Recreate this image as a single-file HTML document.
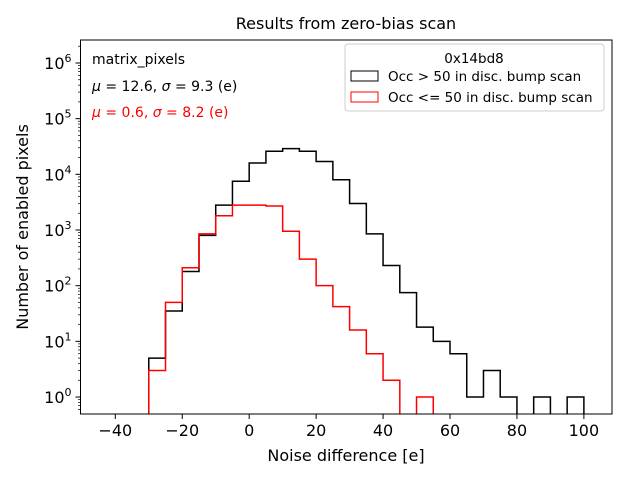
<!DOCTYPE html>
<html><head><meta charset="utf-8"><style>
body{margin:0;background:#fff}
svg{font-family:"DejaVu Sans","Liberation Sans",sans-serif}
</style></head><body>
<svg id="chart" width="640" height="480">
<defs><clipPath id="clip"><rect x="80.5" y="40" width="531.5" height="374"/></clipPath></defs>
<rect x="0" y="0" width="640" height="480" fill="#fff"/>
<text x="346" y="29" font-size="16" text-anchor="middle">Results from zero-bias scan</text>
<g id="plot" clip-path="url(#clip)"></g>
<rect x="80.5" y="40" width="531.5" height="374" fill="none" stroke="#000" stroke-width="1"/>
<g id="axes"></g>
<text x="346" y="461" font-size="16" text-anchor="middle">Noise difference [e]</text>
<text transform="translate(28,227) rotate(-90)" font-size="16" text-anchor="middle">Number of enabled pixels</text>
<text x="92" y="64" font-size="14">matrix_pixels</text>
<text x="92" y="91" font-size="14"><tspan font-style="italic">μ</tspan> = 12.6, <tspan font-style="italic">σ</tspan> = 9.3 (e)</text>
<text x="92" y="117" font-size="14" fill="#ff0000"><tspan font-style="italic">μ</tspan> = 0.6, <tspan font-style="italic">σ</tspan> = 8.2 (e)</text>
<g>
<rect x="345" y="44" width="259" height="67" rx="3" fill="#fff" stroke="#ccc"/>
<text x="474" y="63" font-size="13.5" text-anchor="middle">0x14bd8</text>
<rect x="351" y="71" width="27" height="10" fill="none" stroke="#000"/>
<text x="388" y="81" font-size="13.5">Occ &gt; 50 in disc. bump scan</text>
<rect x="351" y="92" width="27" height="10" fill="none" stroke="#ff0000"/>
<text x="388" y="102" font-size="13.5">Occ &lt;= 50 in disc. bump scan</text>
</g>
</svg>
<script>
const binEdgesStart = -30;
const binWidth = 5;
const blackCounts = [5,35,180,800,2800,7500,16000,26000,29000,26000,17000,8000,3000,850,230,75,18,10,6,1,3,1,0,1,0,1];
const redCounts = [3,50,210,850,1800,2800,2800,2700,950,300,100,42,16,6,2,0,1];
const xTicks = [-40,-20,0,20,40,60,80,100];
const yTickExps = [0,1,2,3,4,5,6];

const NS="http://www.w3.org/2000/svg";
const xMin=-50.4, xMax=108.4, L=80.5, R=612;
const yBot=414, yTop=40, logMin=-0.305, logMax=6.413;
function xs(v){return L+(v-xMin)/(xMax-xMin)*(R-L);}
function ys(v){ if(v<=0) return yBot+20; const l=Math.log10(v); return yBot-(l-logMin)/(logMax-logMin)*(yBot-yTop);}
const plot=document.getElementById('plot'), axes=document.getElementById('axes');
function hist(counts,color,name){
  let d="M"+xs(binEdgesStart)+","+ys(0);
  counts.forEach((c,i)=>{
    const x0=xs(binEdgesStart+i*binWidth), x1=xs(binEdgesStart+(i+1)*binWidth);
    d+=" L"+x0+","+ys(c)+" L"+x1+","+ys(c);
  });
  d+=" L"+xs(binEdgesStart+counts.length*binWidth)+","+ys(0);
  const p=document.createElementNS(NS,'path');
  p.setAttribute('d',d);p.setAttribute('fill','none');p.setAttribute('stroke',color);p.setAttribute('stroke-width','1.5');
  
  
  plot.appendChild(p);
}
hist(blackCounts,'#000','black-histogram');
hist(redCounts,'#ff0000','red-histogram');
xTicks.forEach(t=>{
  const x=xs(t);
  const l=document.createElementNS(NS,'line');
  l.setAttribute('x1',x);l.setAttribute('x2',x);l.setAttribute('y1',yBot);l.setAttribute('y2',yBot+5);l.setAttribute('stroke','#000');
  
  
  axes.appendChild(l);
  const tx=document.createElementNS(NS,'text');
  tx.setAttribute('x',x);tx.setAttribute('y',yBot+22);tx.setAttribute('font-size','16');tx.setAttribute('text-anchor','middle');
  tx.textContent=t<0?'\u2212'+(-t):String(t);
  
  
  axes.appendChild(tx);
});
yTickExps.forEach(e=>{
  const y=ys(Math.pow(10,e));
  const l=document.createElementNS(NS,'line');
  l.setAttribute('x1',L-5);l.setAttribute('x2',L);l.setAttribute('y1',y);l.setAttribute('y2',y);l.setAttribute('stroke','#000');
  
  
  axes.appendChild(l);
  for(let k=2;k<10;k++){
    const ym=ys(k*Math.pow(10,e)); if(ym<yTop) continue;
    const m=document.createElementNS(NS,'line');
    m.setAttribute('x1',L-2.5);m.setAttribute('x2',L);m.setAttribute('y1',ym);m.setAttribute('y2',ym);m.setAttribute('stroke','#000');m.setAttribute('stroke-width','0.7');
    
    
    axes.appendChild(m);
  }
  const tx=document.createElementNS(NS,'text');
  tx.setAttribute('x',L-9);tx.setAttribute('y',y+6);tx.setAttribute('font-size','16');tx.setAttribute('text-anchor','end');
  tx.innerHTML='10<tspan dy="-7" font-size="11">'+e+'</tspan>';
  
  
  axes.appendChild(tx);
});
[0.6,0.7,0.8,0.9].forEach(v=>{const y=ys(v);if(y>yBot)return;
  const m=document.createElementNS(NS,'line');
  m.setAttribute('x1',L-2.5);m.setAttribute('x2',L);m.setAttribute('y1',y);m.setAttribute('y2',y);m.setAttribute('stroke','#000');m.setAttribute('stroke-width','0.7');
  
  
  axes.appendChild(m);});
</script>
</body></html>
